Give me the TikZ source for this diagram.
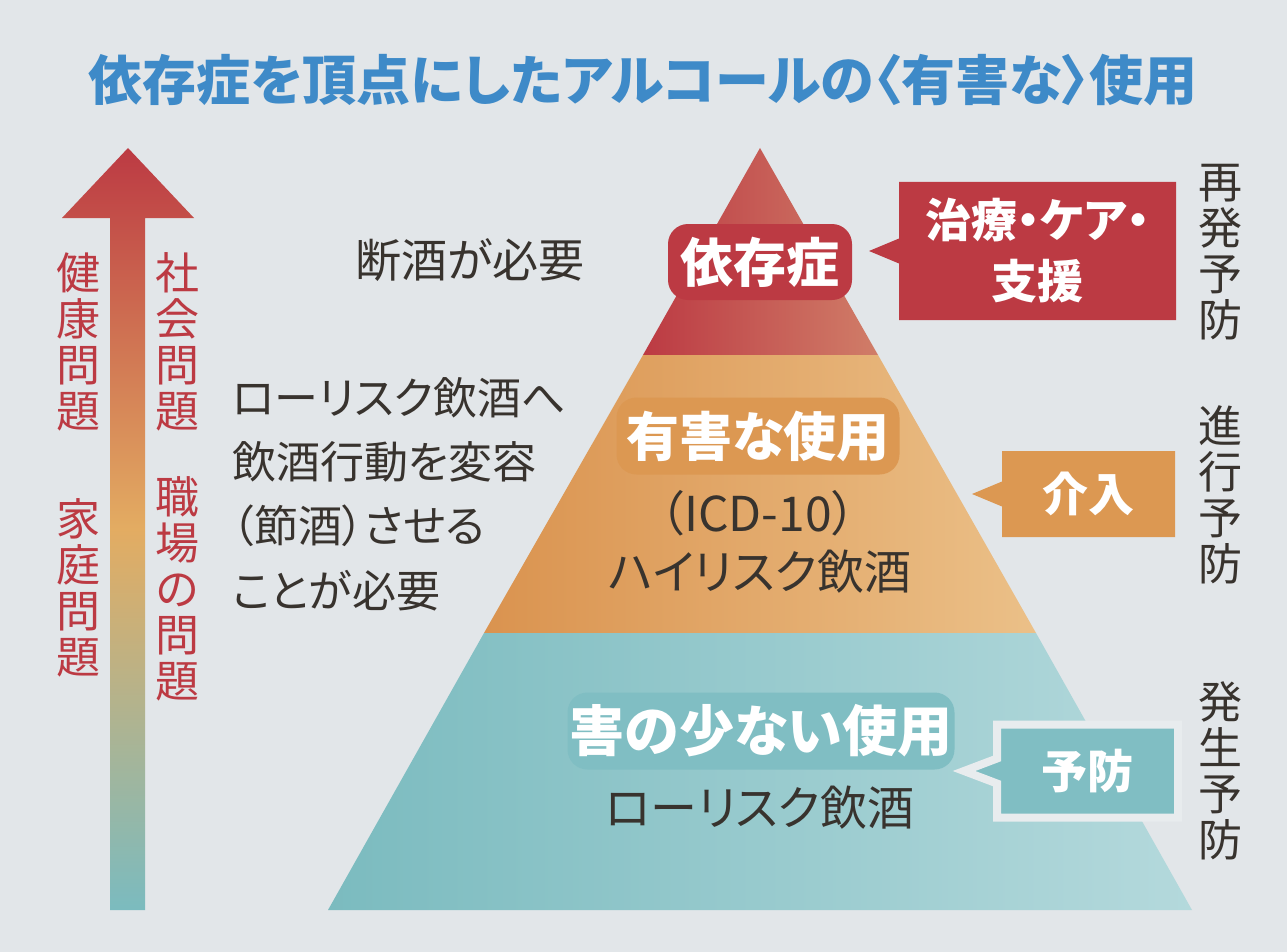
\documentclass[tikz,border=0pt]{standalone}
\usepackage{fontspec}
\setmainfont{Noto Sans CJK JP}[RawFeature=+palt]
\usetikzlibrary{shapes.callouts}

\definecolor{bgcol}{HTML}{E2E6E9}
\definecolor{deepred}{HTML}{BC3A43}
\definecolor{lightred}{HTML}{D07D68}
\definecolor{deeporange}{HTML}{DA934F}
\definecolor{lightorange}{HTML}{EBC088}
\definecolor{midorange}{HTML}{E3AC62}
\definecolor{deepteal}{HTML}{7BBBBF}
\definecolor{lightteal}{HTML}{B4D9DC}
\definecolor{boxteal}{HTML}{80BEC3}
\definecolor{boxorange}{HTML}{DC9852}
\definecolor{rimgrey}{HTML}{E8ECEE}
\definecolor{titleblue}{HTML}{3E8AC8}
\definecolor{ink}{HTML}{38332E}

\tikzset{
  vlabel/.style={align=center, inner sep=0pt, font=\fontsize{44}{46}\selectfont},
  halo/.style={fill=#1, rounded corners=20pt, text=white, inner sep=0pt,
    font=\bfseries\fontsize{53}{53}\selectfont},
  plain/.style={text=ink, inner sep=0pt, font=\fontsize{47}{47}\selectfont},
  tag/.style={rectangle callout, fill=#1, text=white, inner sep=0pt,
    callout pointer width=25pt, align=center,
    font=\bfseries\fontsize{46}{61}\selectfont}
}

\begin{document}
\begin{tikzpicture}[x=1pt,y=-1pt]
\fill[bgcol] (0,0) rectangle (1287,952);
\useasboundingbox (0,0) rectangle (1287,952);

% title
\node[text=titleblue, inner sep=0pt, font=\bfseries\fontsize{54}{54}\selectfont] (title) at (643,80)
  {依存症を頂点にしたアルコールの〈有害な〉使用};

% arrow
\shade[top color=deepred, bottom color=deepteal, middle color=midorange]
  (128,148) -- (194,218) -- (145,218) -- (145,910) -- (110,910) -- (110,218) -- (62,218) -- cycle;

\node[vlabel, text=deepred] (kenko) at (78,342) {健\\康\\問\\題};
\node[vlabel, text=deepred] (katei) at (78,588) {家\\庭\\問\\題};
\node[vlabel, text=deepred] (shakai) at (177,342) {社\\会\\問\\題};
\node[vlabel, text=deepred] (shokuba) at (177,589) {職\\場\\の\\問\\題};

% pyramid
\coordinate (apex) at (760,148);
\shade[left color=deepred, right color=lightred] (apex) -- (878,355) -- (643,355) -- cycle;
\shade[left color=deeporange, right color=lightorange] (643,355) -- (878,355) -- (1036,633) -- (484,633) -- cycle;
\shade[left color=deepteal, right color=lightteal] (484,633) -- (1036,633) -- (1192,910) -- (328,910) -- cycle;

\node[halo=deepred, minimum width=184, minimum height=76] (izon) at (760,262) {依存症};
\node[halo=boxorange, minimum width=283, minimum height=77] (yugai) at (758,436) {有害な使用};
\node[plain, font=\fontsize{48}{48}\selectfont] (icd) at (758,513) {（ICD-10）};
\node[plain] (high) at (760,572) {ハイリスク飲酒};
\node[halo=boxteal, font=\bfseries\fontsize{55}{55}\selectfont,
  minimum width=387, minimum height=77] (gai) at (761,731) {害の少ない使用};
\node[plain] (low) at (760,808) {ローリスク飲酒};

% left notes
\node[plain, font=\fontsize{46}{46}\selectfont] (danshu) at (470,260) {断酒が必要};
\node[plain, anchor=west, align=left, font=\fontsize{44}{64.3}\selectfont] (setsu) at (232,494)
  {ローリスク飲酒へ\\飲酒行動を変容\\（節酒）させる\\ことが必要};

% callouts
\node[tag=deepred, minimum width=277, minimum height=138,
  callout absolute pointer={(869,251)}] (care) at (1037.5,251) {治療・ケア・\\支援};
\node[tag=boxorange, minimum width=173, minimum height=86,
  callout absolute pointer={(972,494)}] (kainyu) at (1088.5,494) {介入};
\node[tag=boxteal, draw=rimgrey, line width=8pt, minimum width=181, minimum height=93,
  callout absolute pointer={(964,771)}] (yobo) at (1087.5,771) {予防};

% right labels
\node[vlabel, text=ink] (saihatsu) at (1220,252) {再\\発\\予\\防};
\node[vlabel, text=ink] (shinko) at (1220,495) {進\\行\\予\\防};
\node[vlabel, text=ink] (hassei) at (1220,771) {発\\生\\予\\防};
\end{tikzpicture}
\end{document}
